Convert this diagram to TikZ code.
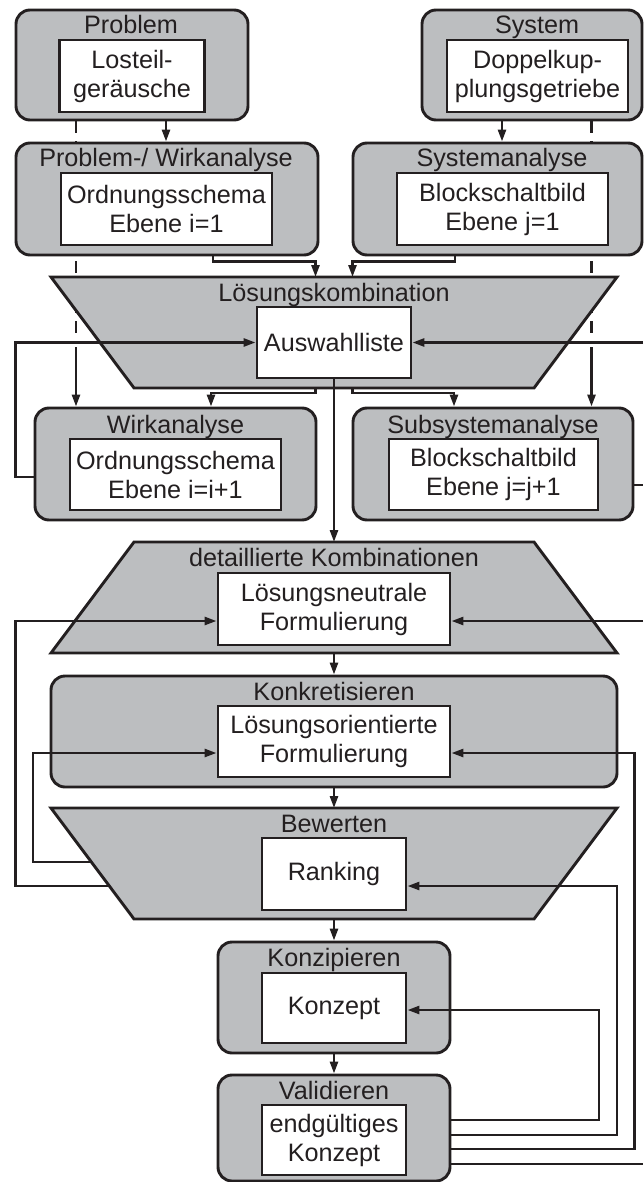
\documentclass[tikz,border=0pt]{standalone}
\usepackage{fontspec}
\setmainfont{Liberation Sans}
\usetikzlibrary{arrows.meta, backgrounds}
\definecolor{boxgray}{RGB}{188,190,192}
\definecolor{inkblack}{RGB}{35,31,32}

\begin{document}
\begin{tikzpicture}[
    x=1pt, y=-1pt,
    >={Triangle[length=12pt, width=8pt]},
    % Block styles
    graybox/.style={
        rectangle, draw=inkblack, fill=boxgray,
        rounded corners=14pt, line width=2.9pt,
        inner sep=0pt
    },
    trapframe/.style={
        rectangle, minimum width=566pt, minimum height=111pt,
        inner sep=0pt, outer sep=0pt
    },
    trapfill/.style={
        draw=inkblack, fill=boxgray, line width=2.9pt, line join=miter
    },
    whitebox/.style={
        rectangle, draw=inkblack, fill=white,
        text=inkblack, font=\fontsize{25.2}{29}\selectfont,
        align=center, line width=2.9pt, inner sep=2pt
    },
    headline/.style={
        text=inkblack, font=\fontsize{25.2}{29}\selectfont,
        text height=18pt, text depth=5pt, inner sep=0pt
    },
    arrow/.style={
        ->, line width=2.6pt, color=inkblack
    },
    wire/.style={
        line width=2.6pt, color=inkblack
    },
    dashedline/.style={
        line width=2.6pt, color=inkblack, dash pattern=on 12pt off 8pt
    },
]
\useasboundingbox (0,0) rectangle (643,1182);

% ===== STAGE 1: PROBLEM AND SYSTEM =====
\node[graybox, minimum width=232pt, minimum height=110pt] (prob) at (132,65) {};
\node[headline] (probhead) at (131,27.5) {Problem};
\node[whitebox, minimum width=145pt, minimum height=72pt] (losteil) at (132,76) {Losteil-\\geräusche};

\node[graybox, minimum width=220pt, minimum height=110pt] (sys) at (532,65) {};
\node[headline] (syshead) at (537,27.5) {System};
\node[whitebox, minimum width=181pt, minimum height=72pt] (dkg) at (537.5,76) {Doppelkup-\\plungsgetriebe};

% ===== STAGE 2: ANALYSIS, LEVEL 1 =====
\node[graybox, minimum width=302pt, minimum height=112pt] (pwa) at (167,199) {};
\node[headline] (pwahead) at (166,160.5) {Problem-/ Wirkanalyse};
\node[whitebox, minimum width=211pt, minimum height=72pt] (schema) at (166.5,209) {Ordnungsschema\\Ebene i=1};

\node[graybox, minimum width=289pt, minimum height=112pt] (sa) at (497.5,199) {};
\node[headline] (sahead) at (502,160.5) {Systemanalyse};
\node[whitebox, minimum width=211pt, minimum height=72pt] (bsb) at (502.5,209) {Blockschaltbild\\Ebene j=1};

% ===== STAGE 3: COMBINATION =====
\node[trapframe] (komb) at (334,332.5) {};
\draw[trapfill] (komb.north west) -- (komb.north east)
    -- ([xshift=-83pt]komb.south east) -- ([xshift=83pt]komb.south west) -- cycle;
\node[headline] (kombhead) at (334,294.5) {Lösungskombination};
\node[whitebox, minimum width=154pt, minimum height=71pt] (auswahl) at (334,342.5) {Auswahlliste};

% ===== STAGE 4: ANALYSIS, NEXT LEVEL =====
\node[graybox, minimum width=281pt, minimum height=112pt] (wirk) at (175.5,464) {};
\node[headline] (wirkhead) at (175.5,426.5) {Wirkanalyse};
\node[whitebox, minimum width=211pt, minimum height=71pt] (schemanext) at (175.5,474.5) {Ordnungsschema\\Ebene i=i+1};

\node[graybox, minimum width=280pt, minimum height=112pt] (subsys) at (493,464) {};
\node[headline] (subsyshead) at (493,426.5) {Subsystemanalyse};
\node[whitebox, minimum width=209pt, minimum height=71pt] (bsbnext) at (493.5,474.5) {Blockschaltbild\\Ebene j=j+1};

% ===== STAGE 5: DETAILING =====
\node[trapframe] (detail) at (334,597.5) {};
\draw[trapfill] ([xshift=83pt]detail.north west) -- ([xshift=-83pt]detail.north east)
    -- (detail.south east) -- (detail.south west) -- cycle;
\node[headline] (detailhead) at (334,559.5) {detaillierte Kombinationen};
\node[whitebox, minimum width=232pt, minimum height=72pt] (neutral) at (334,609) {Lösungsneutrale\\Formulierung};

\node[graybox, minimum width=566pt, minimum height=111pt] (konkret) at (334,731.5) {};
\node[headline] (konkrethead) at (334,693.5) {Konkretisieren};
\node[whitebox, minimum width=232pt, minimum height=71pt] (orient) at (334,741.5) {Lösungsorientierte\\Formulierung};

% ===== STAGE 6: RATING AND CONCEPT =====
\node[trapframe] (bew) at (334,863.5) {};
\draw[trapfill] (bew.north west) -- (bew.north east)
    -- ([xshift=-83pt]bew.south east) -- ([xshift=83pt]bew.south west) -- cycle;
\node[headline] (bewhead) at (334,825.5) {Bewerten};
\node[whitebox, minimum width=144pt, minimum height=72pt] (ranking) at (334,874) {Ranking};

\node[graybox, minimum width=232pt, minimum height=111pt] (konz) at (334,997.5) {};
\node[headline] (konzhead) at (334,959.5) {Konzipieren};
\node[whitebox, minimum width=144pt, minimum height=70pt] (konzept) at (334,1008) {Konzept};

\node[graybox, minimum width=232pt, minimum height=106pt] (valid) at (334,1128) {};
\node[headline] (validhead) at (334,1092.5) {Validieren};
\node[whitebox, minimum width=144pt, minimum height=70pt] (final) at (334,1140) {endgültiges\\Konzept};

% ===== LANES FOR THE FEEDBACK LINES =====
\coordinate (outerleft) at (15.5,0);
\coordinate (innerleft) at (33,0);
\coordinate (konzeptlane) at (599,0);
\coordinate (rankinglane) at (617,0);
\coordinate (orientlane) at (634.5,0);
\coordinate (rightedge) at (643,0);

% ===== ARROWS =====
% Inputs to first analysis
\draw[arrow] (prob.south -| pwahead) -- (pwa.north -| pwahead);
\draw[arrow] (sys.south -| sahead) -- (sa.north -| sahead);

% Analysis to combination
\draw[arrow] ([xshift=46pt]pwa.south) -- ++(0,5) -| ([xshift=-18.5pt]komb.north);
\draw[arrow] ([xshift=-42.5pt]sa.south) -- ++(0,5) -| ([xshift=18.5pt]komb.north);

% Combination to next level
\draw[arrow] ([xshift=-18.5pt]komb.south) -- ++(0,5) -| ([xshift=35.5pt]wirk.north);
\draw[arrow] ([xshift=18.5pt]komb.south) -- ++(0,5) -| ([xshift=-39pt]subsys.north);

% Main line down
\draw[arrow] (auswahl.south) -- (detail.north);
\draw[arrow] (detail.south) -- (konkret.north);
\draw[arrow] (konkret.south) -- (bew.north);
\draw[arrow] (bew.south) -- (konz.north);
\draw[arrow] (konz.south) -- (valid.north);

% Iteration tracks (dashed part runs behind the blocks)
\coordinate (lefttrackend) at (76,333);
\coordinate (righttrackend) at (591.5,334);
\coordinate (leftdrop) at (76,347);
\coordinate (rightdrop) at (591.5,347);
\begin{scope}[on background layer]
    \draw[dashedline] (prob.south -| lefttrackend) -- (lefttrackend);
    \draw[dashedline] (sys.south -| righttrackend) -- (righttrackend);
\end{scope}
\draw[arrow] (leftdrop) -- (leftdrop |- wirk.north);
\draw[arrow] (rightdrop) -- (rightdrop |- subsys.north);

% ===== FEEDBACK, LEFT SIDE =====
\coordinate (wirkout) at ([yshift=-13pt]wirk.west);
\coordinate (bewout1) at ([xshift=59pt, yshift=-22.5pt]bew.west);
\coordinate (bewout2) at ([xshift=41pt, yshift=1.5pt]bew.west);
\draw[arrow] (wirkout) -- (wirkout -| outerleft) |- (auswahl.west);
\draw[arrow] (bewout1) -- (bewout1 -| outerleft) |- ([yshift=-12pt]neutral.west);
\draw[arrow] (bewout2) -- (bewout2 -| innerleft) |- ([yshift=-11.5pt]orient.west);

% ===== FEEDBACK, RIGHT SIDE =====
\draw[arrow] (auswahl.east -| rightedge) -- (auswahl.east);
\coordinate (subsysout) at ([yshift=-21pt]subsys.east);
\draw[wire] (subsysout) -- (subsysout -| rightedge);
\coordinate (neutralin) at ([yshift=-12pt]neutral.east);
\draw[arrow] (neutralin -| rightedge) -- (neutralin);

\coordinate (validout1) at ([yshift=8pt]valid.east);
\coordinate (validout2) at ([yshift=-7pt]valid.east);
\coordinate (validout3) at ([yshift=-21pt]valid.east);
\coordinate (validout4) at ([yshift=-36pt]valid.east);
\draw[arrow] (validout1) -- (validout1 -| konzeptlane) |- ([yshift=-2pt]konzept.east);
\draw[arrow] (validout2) -- (validout2 -| rankinglane) |- ([yshift=-12pt]ranking.east);
\draw[arrow] (validout3) -- (validout3 -| orientlane) |- ([yshift=-11.5pt]orient.east);
\draw[wire] (validout4) -- (validout4 -| rightedge);

\end{tikzpicture}
\end{document}
